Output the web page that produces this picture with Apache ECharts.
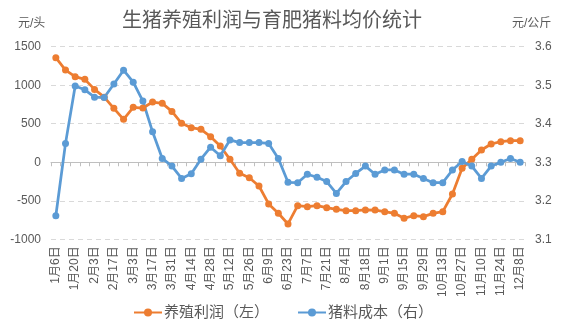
<!DOCTYPE html>
<html>
<head>
<meta charset="utf-8">
<script src="https://cdn.jsdelivr.net/npm/echarts@6/dist/echarts.min.js"></script>
<style>
html,body{margin:0;padding:0;background:#fff;}
#chart{width:566px;height:333px;}
</style>
</head>
<body>
<div id="chart"></div>
<script>
var titleText = '生猪养殖利润与育肥猪料均价统计';
var leftUnit = '元/头';
var rightUnit = '元/公斤';
var seriesNames = ['养殖利润（左）', '猪料成本（右）'];
var categories = ['1月6日','1月13日','1月20日','1月27日','2月3日','2月10日','2月17日','2月24日','3月3日','3月10日','3月17日','3月24日','3月31日','4月7日','4月14日','4月21日','4月28日','5月5日','5月12日','5月19日','5月26日','6月2日','6月9日','6月16日','6月23日','6月30日','7月7日','7月14日','7月21日','7月28日','8月4日','8月11日','8月18日','8月25日','9月1日','9月8日','9月15日','9月22日','9月29日','10月6日','10月13日','10月20日','10月27日','11月3日','11月10日','11月17日','11月24日','12月1日','12月8日'];
var profit = [1357,1197,1111,1076,946,845,700,557,713,704,782,765,660,505,449,427,332,211,38,-143,-200,-308,-541,-662,-801,-563,-576,-563,-589,-611,-628,-628,-619,-620,-641,-663,-727,-693,-706,-663,-641,-412,-79,38,159,237,267,280,280];
var feedCost = [3.161,3.349,3.498,3.488,3.469,3.468,3.503,3.539,3.508,3.459,3.379,3.310,3.290,3.258,3.270,3.308,3.339,3.317,3.358,3.351,3.351,3.351,3.349,3.310,3.248,3.247,3.269,3.261,3.250,3.219,3.250,3.271,3.290,3.269,3.280,3.280,3.269,3.269,3.258,3.247,3.247,3.280,3.302,3.290,3.258,3.290,3.300,3.310,3.300];
var leftTicks = {min: -1000, max: 1500, interval: 500};
var rightTicks = {min: 3.1, max: 3.6, interval: 0.1};

var FONT = '"Liberation Sans", "Noto Sans CJK SC", sans-serif';
var TXT = '#595959';
var chart = echarts.init(document.getElementById('chart'), null, {renderer: 'canvas'});
chart.setOption({
  animation: false,
  backgroundColor: '#ffffff',
  textStyle: {fontFamily: FONT},
  title: {
    text: titleText,
    left: 117,
    top: 6,
    textStyle: {fontSize: 20, fontWeight: 'normal', color: TXT, fontFamily: FONT}
  },
  graphic: [
    {type: 'text', left: 18, top: 18, style: {text: leftUnit, fontSize: 12, fill: TXT, fontFamily: FONT}},
    {type: 'text', left: 512, top: 18, style: {text: rightUnit, fontSize: 12, fill: TXT, fontFamily: FONT}}
  ],
  legend: {
    bottom: 8,
    left: 'center',
    itemWidth: 28,
    itemHeight: 10,
    itemGap: 28,
    textStyle: {fontSize: 15, color: TXT, fontFamily: FONT, padding: [0, 0, 0, -3]},
    data: seriesNames
  },
  grid: {left: 51, right: 41, top: 46.7, bottom: 93.7, containLabel: false},
  xAxis: [
    {
      type: 'category',
      data: categories,
      boundaryGap: true,
      position: 'bottom',
      axisLine: {show: true, onZero: true, onZeroAxisIndex: 0, lineStyle: {color: '#BFBFBF', width: 1}},
      axisTick: {show: true, interval: 0, length: 4, lineStyle: {color: '#BFBFBF'}},
      axisLabel: {show: false},
      splitLine: {show: false}
    },
    {
      type: 'category',
      data: categories,
      boundaryGap: true,
      position: 'bottom',
      axisLine: {show: false, onZero: false},
      axisTick: {show: false},
      axisLabel: {show: true, interval: 1, rotate: 90, margin: 7, fontSize: 12, color: TXT, fontFamily: FONT},
      splitLine: {show: false}
    }
  ],
  yAxis: [
    {
      type: 'value',
      min: leftTicks.min, max: leftTicks.max, interval: leftTicks.interval,
      axisLine: {show: false},
      axisTick: {show: false},
      axisLabel: {fontSize: 12, color: TXT, margin: 10, fontFamily: FONT, formatter: function (v) { return String(v); }},
      splitLine: {show: true, lineStyle: {color: '#D9D9D9', type: [5, 4], width: 1}}
    },
    {
      type: 'value',
      min: rightTicks.min, max: rightTicks.max, interval: rightTicks.interval,
      position: 'right',
      axisLine: {show: false},
      axisTick: {show: false},
      axisLabel: {fontSize: 12, color: TXT, margin: 10, fontFamily: FONT, formatter: function (v) { return v.toFixed(1); }},
      splitLine: {show: false}
    }
  ],
  series: [
    {
      name: seriesNames[0],
      type: 'line',
      xAxisIndex: 0,
      yAxisIndex: 0,
      data: profit,
      symbol: 'circle',
      symbolSize: 7,
      showAllSymbol: true,
      color: '#ED7D31',
      lineStyle: {width: 2.75, color: '#ED7D31'},
      itemStyle: {color: '#ED7D31'}
    },
    {
      name: seriesNames[1],
      type: 'line',
      xAxisIndex: 0,
      yAxisIndex: 1,
      data: feedCost,
      symbol: 'circle',
      symbolSize: 7,
      showAllSymbol: true,
      color: '#5B9BD5',
      lineStyle: {width: 2.75, color: '#5B9BD5'},
      itemStyle: {color: '#5B9BD5'}
    }
  ]
});
</script>
</body>
</html>
